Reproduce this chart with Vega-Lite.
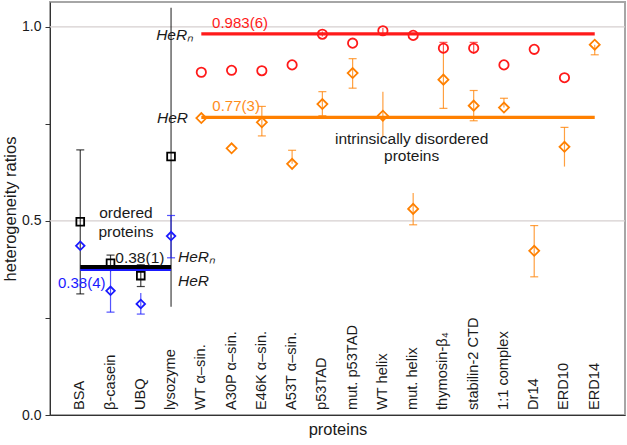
{
  "$schema": "https://vega.github.io/schema/vega-lite/v6.json",
  "width": 575,
  "height": 413,
  "autosize": {"type": "none"},
  "padding": {"left": 50, "top": 2, "right": 2, "bottom": 30},
  "config": {
    "font": "Liberation Sans",
    "view": {"stroke": "#a6a6a6", "strokeWidth": 2},
    "axis": {"domainColor": "#333", "tickColor": "#333", "labelColor": "#1a1a1a", "titleColor": "#1a1a1a", "titleFontWeight": "normal", "grid": false}
  },
  "datasets": {
    "proteins": [
      {"idx": 1, "protein": "BSA"},
      {"idx": 2, "protein": "β-casein"},
      {"idx": 3, "protein": "UBQ"},
      {"idx": 4, "protein": "lysozyme"},
      {"idx": 5, "protein": "WT α–sin."},
      {"idx": 6, "protein": "A30P α–sin."},
      {"idx": 7, "protein": "E46K α–sin."},
      {"idx": 8, "protein": "A53T  α–sin."},
      {"idx": 9, "protein": "p53TAD"},
      {"idx": 10, "protein": "mut. p53TAD"},
      {"idx": 11, "protein": "WT helix"},
      {"idx": 12, "protein": "mut. helix"},
      {"idx": 13, "protein": "thymosin-β₄"},
      {"idx": 14, "protein": "stabilin-2 CTD"},
      {"idx": 15, "protein": "1:1 complex"},
      {"idx": 16, "protein": "Dr14"},
      {"idx": 17, "protein": "ERD10"},
      {"idx": 18, "protein": "ERD14"}
    ],
    "pts": [
      {"series": "ordHeRn", "idx": 1, "v": 0.498},
      {"series": "ordHeRn", "idx": 2, "v": 0.391},
      {"series": "ordHeRn", "idx": 3, "v": 0.359},
      {"series": "ordHeRn", "idx": 4, "v": 0.666},
      {"series": "ordHeR", "idx": 1, "v": 0.436},
      {"series": "ordHeR", "idx": 2, "v": 0.320},
      {"series": "ordHeR", "idx": 3, "v": 0.286},
      {"series": "ordHeR", "idx": 4, "v": 0.461},
      {"series": "idpHeRn", "idx": 5, "v": 0.883},
      {"series": "idpHeRn", "idx": 6, "v": 0.888},
      {"series": "idpHeRn", "idx": 7, "v": 0.887},
      {"series": "idpHeRn", "idx": 8, "v": 0.902},
      {"series": "idpHeRn", "idx": 9, "v": 0.981},
      {"series": "idpHeRn", "idx": 10, "v": 0.958},
      {"series": "idpHeRn", "idx": 11, "v": 0.990},
      {"series": "idpHeRn", "idx": 12, "v": 0.978},
      {"series": "idpHeRn", "idx": 13, "v": 0.945},
      {"series": "idpHeRn", "idx": 14, "v": 0.945},
      {"series": "idpHeRn", "idx": 15, "v": 0.902},
      {"series": "idpHeRn", "idx": 16, "v": 0.942},
      {"series": "idpHeRn", "idx": 17, "v": 0.869},
      {"series": "idpHeR", "idx": 5, "v": 0.765},
      {"series": "idpHeR", "idx": 6, "v": 0.687},
      {"series": "idpHeR", "idx": 7, "v": 0.754},
      {"series": "idpHeR", "idx": 8, "v": 0.647},
      {"series": "idpHeR", "idx": 9, "v": 0.801},
      {"series": "idpHeR", "idx": 10, "v": 0.881},
      {"series": "idpHeR", "idx": 11, "v": 0.771},
      {"series": "idpHeR", "idx": 12, "v": 0.531},
      {"series": "idpHeR", "idx": 13, "v": 0.864},
      {"series": "idpHeR", "idx": 14, "v": 0.797},
      {"series": "idpHeR", "idx": 15, "v": 0.792},
      {"series": "idpHeR", "idx": 16, "v": 0.423},
      {"series": "idpHeR", "idx": 17, "v": 0.691},
      {"series": "idpHeR", "idx": 18, "v": 0.954}
    ],
    "bars": [
      {"series": "ordHeRn", "idx": 1, "lo": 0.312, "hi": 0.683},
      {"series": "ordHeRn", "idx": 2, "lo": 0.370, "hi": 0.412},
      {"series": "ordHeRn", "idx": 3, "lo": 0.331, "hi": 0.387},
      {"series": "ordHeRn", "idx": 4, "lo": 0.279, "hi": 1.049},
      {"series": "ordHeR", "idx": 2, "lo": 0.265, "hi": 0.375},
      {"series": "ordHeR", "idx": 3, "lo": 0.260, "hi": 0.314},
      {"series": "ordHeR", "idx": 4, "lo": 0.405, "hi": 0.514},
      {"series": "idpHeRn", "idx": 9, "lo": 0.975, "hi": 0.988},
      {"series": "idpHeRn", "idx": 11, "lo": 0.983, "hi": 0.997},
      {"series": "idpHeRn", "idx": 13, "lo": 0.930, "hi": 0.960},
      {"series": "idpHeRn", "idx": 14, "lo": 0.930, "hi": 0.960},
      {"series": "idpHeR", "idx": 7, "lo": 0.719, "hi": 0.795},
      {"series": "idpHeR", "idx": 8, "lo": 0.647, "hi": 0.682},
      {"series": "idpHeR", "idx": 9, "lo": 0.771, "hi": 0.833},
      {"series": "idpHeR", "idx": 10, "lo": 0.842, "hi": 0.918},
      {"series": "idpHeR", "idx": 11, "lo": 0.717, "hi": 0.833},
      {"series": "idpHeR", "idx": 12, "lo": 0.490, "hi": 0.572},
      {"series": "idpHeR", "idx": 13, "lo": 0.790, "hi": 0.938},
      {"series": "idpHeR", "idx": 14, "lo": 0.758, "hi": 0.836},
      {"series": "idpHeR", "idx": 15, "lo": 0.792, "hi": 0.816},
      {"series": "idpHeR", "idx": 16, "lo": 0.356, "hi": 0.488},
      {"series": "idpHeR", "idx": 17, "lo": 0.640, "hi": 0.741},
      {"series": "idpHeR", "idx": 18, "lo": 0.928, "hi": 0.954}
    ],
    "caps": [
      {"series": "ordHeRn", "idx": 1, "y": 0.312},
      {"series": "ordHeRn", "idx": 1, "y": 0.683},
      {"series": "ordHeRn", "idx": 2, "y": 0.412},
      {"series": "ordHeRn", "idx": 3, "y": 0.331},
      {"series": "ordHeRn", "idx": 3, "y": 0.387},
      {"series": "ordHeR", "idx": 2, "y": 0.265},
      {"series": "ordHeR", "idx": 3, "y": 0.260},
      {"series": "ordHeR", "idx": 4, "y": 0.405},
      {"series": "ordHeR", "idx": 4, "y": 0.514},
      {"series": "idpHeRn", "idx": 13, "y": 0.960},
      {"series": "idpHeRn", "idx": 14, "y": 0.960},
      {"series": "idpHeR", "idx": 7, "y": 0.719},
      {"series": "idpHeR", "idx": 7, "y": 0.795},
      {"series": "idpHeR", "idx": 8, "y": 0.682},
      {"series": "idpHeR", "idx": 9, "y": 0.771},
      {"series": "idpHeR", "idx": 9, "y": 0.833},
      {"series": "idpHeR", "idx": 10, "y": 0.842},
      {"series": "idpHeR", "idx": 10, "y": 0.918},
      {"series": "idpHeR", "idx": 12, "y": 0.490},
      {"series": "idpHeR", "idx": 13, "y": 0.790},
      {"series": "idpHeR", "idx": 14, "y": 0.758},
      {"series": "idpHeR", "idx": 14, "y": 0.836},
      {"series": "idpHeR", "idx": 15, "y": 0.816},
      {"series": "idpHeR", "idx": 16, "y": 0.356},
      {"series": "idpHeR", "idx": 16, "y": 0.488},
      {"series": "idpHeR", "idx": 17, "y": 0.741},
      {"series": "idpHeR", "idx": 18, "y": 0.928}
    ],
    "lines": [
      {"series": "ordHeR", "x1": 1, "x2": 4, "v": 0.375, "w": "thin"},
      {"series": "ordHeRn", "x1": 1, "x2": 4, "v": 0.381, "w": "thick"},
      {"series": "idpHeRn", "x1": 5, "x2": 18, "v": 0.982, "w": "thin"},
      {"series": "idpHeR", "x1": 5, "x2": 18, "v": 0.767, "w": "thin"}
    ]
  },
  "encoding": {
    "x": {"type": "quantitative", "scale": {"domain": [0, 19], "nice": false, "zero": false}},
    "y": {"type": "quantitative", "scale": {"domain": [0, 1.064], "nice": false}}
  },
  "layer": [
    {
      "data": {"values": [{"g": 0.5}, {"g": 1.0}]},
      "mark": {"type": "rule", "color": "#d6cfcf", "strokeWidth": 1.2},
      "encoding": {
        "y": {
          "field": "g", "type": "quantitative",
          "axis": {
            "title": "heterogeneity ratios", "titleFontSize": 16.5, "titlePadding": 3,
            "values": [0, 0.25, 0.5, 0.75, 1.0],
            "labelExpr": "datum.value == 0.25 || datum.value == 0.75 ? '' : format(datum.value, '.1f')",
            "labelFontSize": 14, "tickSize": 5, "labelPadding": 4
          }
        }
      }
    },
    {
      "data": {"name": "bars"},
      "mark": {"type": "rule", "strokeWidth": 1.2, "opacity": 0.75},
      "encoding": {
        "x": {
          "field": "idx", "type": "quantitative",
          "axis": {"title": "proteins", "titleFontSize": 16.5, "labels": false, "ticks": false, "titlePadding": 6}
        },
        "y": {"field": "lo", "type": "quantitative"},
        "y2": {"field": "hi"},
        "color": {"field": "series", "type": "nominal", "legend": null,
          "scale": {"domain": ["ordHeRn", "ordHeR", "idpHeRn", "idpHeR"], "range": ["#000000", "#1a1aff", "#ff1a1a", "#ff8000"]}}
      }
    },
    {
      "data": {"name": "caps"},
      "mark": {"type": "tick", "orient": "horizontal", "size": 8, "thickness": 1.2, "opacity": 0.75},
      "encoding": {
        "x": {"field": "idx", "type": "quantitative"},
        "y": {"field": "y", "type": "quantitative"},
        "color": {"field": "series", "type": "nominal", "legend": null}
      }
    },
    {
      "data": {"name": "lines"},
      "mark": {"type": "rule"},
      "encoding": {
        "x": {"field": "x1", "type": "quantitative"},
        "x2": {"field": "x2"},
        "y": {"field": "v", "type": "quantitative"},
        "color": {"field": "series", "type": "nominal", "legend": null},
        "strokeWidth": {"field": "w", "type": "nominal", "legend": null, "scale": {"domain": ["thin", "thick"], "range": [3.2, 4]}}
      }
    },
    {
      "data": {"name": "pts"},
      "mark": {"type": "point", "filled": false, "strokeWidth": 1.8, "opacity": 1},
      "encoding": {
        "x": {"field": "idx", "type": "quantitative"},
        "y": {"field": "v", "type": "quantitative"},
        "color": {"field": "series", "type": "nominal", "legend": null},
        "shape": {"field": "series", "type": "nominal", "legend": null,
          "scale": {"domain": ["ordHeRn", "ordHeR", "idpHeRn", "idpHeR"], "range": ["square", "diamond", "circle", "diamond"]}},
        "size": {"field": "series", "type": "nominal", "legend": null,
          "scale": {"domain": ["ordHeRn", "ordHeR", "idpHeRn", "idpHeR"], "range": [60, 100, 64, 100]}}
      }
    },
    {
      "data": {"name": "proteins"},
      "mark": {"type": "text", "angle": 270, "align": "left", "baseline": "middle", "fontSize": 14.6, "color": "#1a1a1a"},
      "encoding": {
        "x": {"field": "idx", "type": "quantitative"},
        "y": {"datum": 0.013},
        "text": {"field": "protein"}
      }
    },
    {
      "data": {"values": [
        {"x": 2.51, "y": 0.521, "t": "ordered"},
        {"x": 2.51, "y": 0.472, "t": "proteins"},
        {"x": 11.95, "y": 0.711, "t": "intrinsically disordered"},
        {"x": 11.95, "y": 0.666, "t": "proteins"},
        {"x": 2.97, "y": 0.405, "t": "0.38(1)"}
      ]},
      "mark": {"type": "text", "fontSize": 15.5, "color": "#1a1a1a", "baseline": "middle"},
      "encoding": {
        "x": {"field": "x", "type": "quantitative"},
        "y": {"field": "y", "type": "quantitative"},
        "text": {"field": "t"}
      }
    },
    {
      "data": {"values": [{"x": 1.05, "y": 0.341, "t": "0.38(4)"}]},
      "mark": {"type": "text", "fontSize": 15, "color": "#1a1aff", "baseline": "middle"},
      "encoding": {
        "x": {"field": "x", "type": "quantitative"},
        "y": {"field": "y", "type": "quantitative"},
        "text": {"field": "t"}
      }
    },
    {
      "data": {"values": [{"x": 6.28, "y": 1.009, "t": "0.983(6)"}]},
      "mark": {"type": "text", "fontSize": 15, "color": "#ff1a1a", "baseline": "middle"},
      "encoding": {
        "x": {"field": "x", "type": "quantitative"},
        "y": {"field": "y", "type": "quantitative"},
        "text": {"field": "t"}
      }
    },
    {
      "data": {"values": [{"x": 6.15, "y": 0.795, "t": "0.77(3)"}]},
      "mark": {"type": "text", "fontSize": 15, "color": "#ff8c1a", "baseline": "middle"},
      "encoding": {
        "x": {"field": "x", "type": "quantitative"},
        "y": {"field": "y", "type": "quantitative"},
        "text": {"field": "t"}
      }
    },
    {
      "data": {"values": [
        {"x": 4.23, "y": 0.407, "t": "HeRₙ"},
        {"x": 4.23, "y": 0.344, "t": "HeR"}
      ]},
      "mark": {"type": "text", "fontSize": 15.5, "fontStyle": "italic", "color": "#1a1a1a", "align": "left", "baseline": "middle"},
      "encoding": {
        "x": {"field": "x", "type": "quantitative"},
        "y": {"field": "y", "type": "quantitative"},
        "text": {"field": "t"}
      }
    },
    {
      "data": {"values": [
        {"x": 4.73, "y": 0.979, "t": "HeRₙ"},
        {"x": 4.56, "y": 0.765, "t": "HeR"}
      ]},
      "mark": {"type": "text", "fontSize": 15.5, "fontStyle": "italic", "color": "#1a1a1a", "align": "right", "baseline": "middle"},
      "encoding": {
        "x": {"field": "x", "type": "quantitative"},
        "y": {"field": "y", "type": "quantitative"},
        "text": {"field": "t"}
      }
    }
  ]
}
